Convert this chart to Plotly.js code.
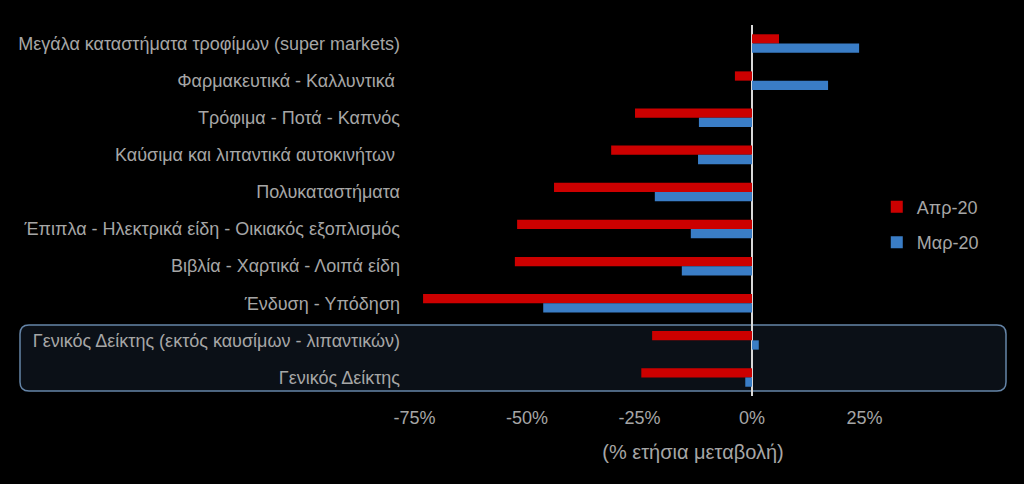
<!DOCTYPE html>
<html>
<head>
<meta charset="utf-8">
<script src="https://cdn.plot.ly/plotly-3.0.1.min.js"></script>
<style>html,body{margin:0;padding:0;background:#000;}</style>
</head>
<body>
<div id="chart" style="width:1024px;height:484px;"></div>
<script>
const categories = [
  "Μεγάλα καταστήματα τροφίμων (super markets)",
  "Φαρμακευτικά - Καλλυντικά ",
  "Τρόφιμα - Ποτά - Καπνός",
  "Καύσιμα και λιπαντικά αυτοκινήτων ",
  "Πολυκαταστήματα",
  "Έπιπλα - Ηλεκτρικά είδη - Οικιακός εξοπλισμός",
  "Βιβλία - Χαρτικά - Λοιπά είδη",
  "Ένδυση - Υπόδηση",
  "Γενικός Δείκτης (εκτός καυσίμων - λιπαντικών)",
  "Γενικός Δείκτης"
];
const apr20 = [6.0, -3.8, -26.0, -31.3, -44.0, -52.2, -52.7, -73.1, -22.2, -24.6];
const mar20 = [23.8, 16.9, -11.8, -12.0, -21.6, -13.6, -15.6, -46.4, 1.5, -1.5];
const seriesNames = ["Απρ-20", "Μαρ-20"];
const tickVals = [-75, -50, -25, 0, 25];
const tickText = ["-75%", "-50%", "-25%", "0%", "25%"];

const font = "Liberation Sans, Arial, sans-serif";
const grey = "#a6a6a6";

const traces = [
  {type: "bar", orientation: "h", name: seriesNames[0], y: categories, x: apr20,
   marker: {color: "#cc0000"}, legendgroup: "a", hoverinfo: "x+y"},
  {type: "bar", orientation: "h", name: seriesNames[1], y: categories, x: mar20,
   marker: {color: "#3a7dc6"}, legendgroup: "b", hoverinfo: "x+y"}
];

const layout = {
  width: 1024, height: 484,
  paper_bgcolor: "#000", plot_bgcolor: "rgba(0,0,0,0)",
  margin: {l: 412, r: 50, t: 25, b: 88},
  barmode: "group", bargap: 0.5, bargroupgap: 0,
  font: {family: font, color: grey, size: 16},
  xaxis: {
    range: [-75.56, 49.33], tickvals: tickVals, ticktext: tickText,
    showgrid: false, showline: false, ticks: "", zeroline: true,
    zerolinecolor: "#d9d9d9", zerolinewidth: 2,
    tickfont: {size: 18, color: grey}, ticklabelstandoff: 9,
    title: {text: "(% ετήσια μεταβολή)", font: {size: 20, color: grey}, standoff: 17}
  },
  yaxis: {
    type: "category", autorange: "reversed", showgrid: false, showline: false,
    ticks: "", zeroline: false, tickfont: {size: 18, color: grey}, ticklabelstandoff: 11
  },
  legend: {x: 0.827, y: 0.462, xanchor: "left", yanchor: "middle",
    bgcolor: "rgba(0,0,0,0)", font: {size: 18, color: grey}, tracegroupgap: 9},
  shapes: [{
    type: "path", layer: "below",
    xref: "paper", yref: "paper", xsizemode: "pixel", ysizemode: "pixel",
    xanchor: 0, yanchor: 0,
    path: "M -383,5 L 585,5 Q 594,5 594,14 L 594,62 Q 594,71 585,71 L -383,71 Q -392,71 -392,62 L -392,14 Q -392,5 -383,5 Z",
    fillcolor: "#0b1017", line: {color: "#6585a8", width: 1.5}
  }]
};

Plotly.newPlot("chart", traces, layout, {displayModeBar: false, staticPlot: true});
</script>
</body>
</html>
